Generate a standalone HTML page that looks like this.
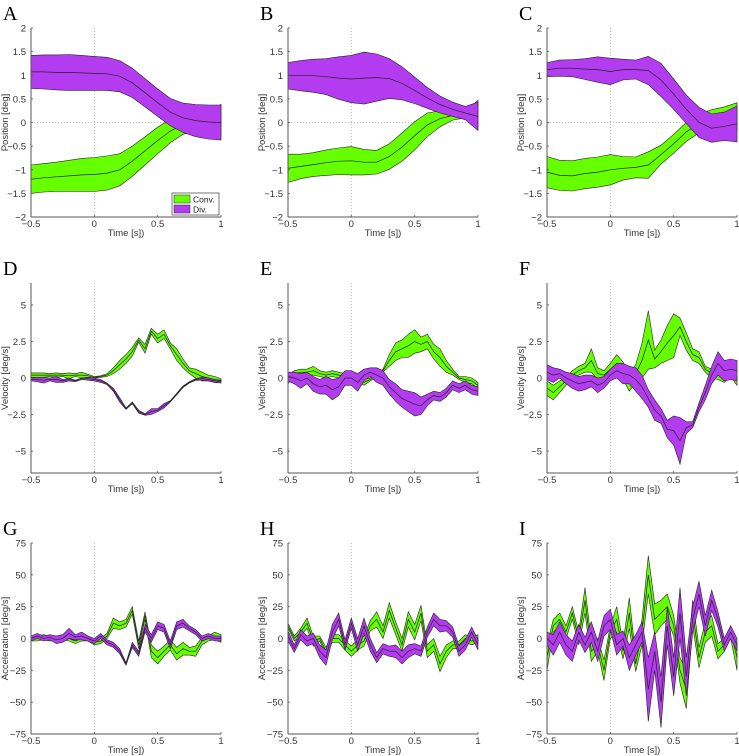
<!DOCTYPE html>
<html><head><meta charset="utf-8"><style>
body{margin:0;background:#fff;}
svg{display:block;font-family:"Liberation Sans",sans-serif;}
</style></head><body>
<svg id="fig" width="739" height="756" viewBox="0 0 739 756" xmlns="http://www.w3.org/2000/svg"></svg>
<script>
// ---- data ----
const posTimes=[-0.5,-0.4,-0.3,-0.2,-0.1,0,0.1,0.2,0.3,0.4,0.5,0.6,0.7,0.8,0.9,1.0];
const fineTimes=[-0.5,-0.45,-0.4,-0.35,-0.3,-0.25,-0.2,-0.15,-0.1,-0.05,0,0.05,0.1,0.15,0.2,0.25,0.3,0.35,0.4,0.45,0.5,0.55,0.6,0.65,0.7,0.75,0.8,0.85,0.9,0.95,1.0];
const xTicks=[-0.5,0,0.5,1];
const xTickLabels=["-0.5","0","0.5","1"];
const posTicks=[-2,-1.5,-1,-0.5,0,0.5,1,1.5,2];
const posTickLabels=["-2","-1.5","-1","-0.5","0","0.5","1","1.5","2"];
const velTicks=[-5,-2.5,0,2.5,5];
const velTickLabels=["-5","-2.5","0","2.5","5"];
const accTicks=[-75,-50,-25,0,25,50,75];
const accTickLabels=["-75","-50","-25","0","25","50","75"];

const aDivMean=[1.07,1.07,1.06,1.06,1.05,1.04,1.03,0.98,0.84,0.63,0.42,0.22,0.1,0.04,0.01,0.0];
const aDivSd=[0.35,0.36,0.37,0.38,0.37,0.36,0.35,0.33,0.31,0.3,0.29,0.29,0.31,0.34,0.36,0.37];
const aConvMean=[-1.2,-1.17,-1.15,-1.13,-1.11,-1.1,-1.07,-1.0,-0.82,-0.6,-0.38,-0.18,-0.05,0.02,0.05,0.05];
const aConvSd=[0.3,0.3,0.31,0.33,0.35,0.36,0.36,0.34,0.32,0.3,0.28,0.25,0.2,0.2,0.22,0.33];
const bDivMean=[0.99,0.99,0.99,0.97,0.94,0.92,0.94,0.95,0.93,0.83,0.68,0.52,0.38,0.28,0.2,0.13];
const bDivSd=[0.28,0.32,0.35,0.38,0.45,0.5,0.55,0.5,0.42,0.35,0.28,0.22,0.18,0.15,0.14,0.3];
const bConvMean=[-0.97,-0.93,-0.89,-0.85,-0.82,-0.81,-0.84,-0.84,-0.72,-0.52,-0.28,-0.05,0.08,0.15,0.17,0.17];
const bConvSd=[0.3,0.26,0.25,0.27,0.28,0.3,0.27,0.25,0.27,0.3,0.3,0.25,0.17,0.1,0.07,0.3];
const cDivMean=[1.12,1.15,1.15,1.13,1.12,1.08,1.12,1.12,1.1,0.9,0.6,0.28,0.0,-0.12,-0.08,-0.03];
const cDivSd=[0.15,0.17,0.18,0.22,0.27,0.28,0.22,0.2,0.3,0.35,0.32,0.3,0.32,0.3,0.3,0.38];
const cConvMean=[-1.05,-1.12,-1.13,-1.08,-1.05,-1.0,-0.97,-0.95,-0.9,-0.68,-0.45,-0.2,-0.02,0.05,0.08,0.12];
const cConvSd=[0.33,0.32,0.32,0.32,0.32,0.32,0.25,0.22,0.28,0.2,0.2,0.2,0.2,0.22,0.25,0.3];

const dConvMean=[0.2,0.2,0.2,0.2,0.2,0.2,0.15,0.2,0.2,0.15,0.05,0.1,0.2,0.5,0.9,1.3,1.8,2.6,2.0,3.2,2.7,3.0,2.2,1.6,1.0,0.5,0.3,0.1,0.0,-0.1,-0.2];
const dConvSd=[0.15,0.15,0.15,0.1,0.15,0.1,0.2,0.1,0.2,0.1,0.05,0.05,0.1,0.2,0.3,0.3,0.3,0.15,0.3,0.2,0.3,0.3,0.2,0.4,0.3,0.2,0.3,0.3,0.2,0.2,0.15];
const dDivMean=[-0.1,-0.1,-0.15,-0.1,-0.1,-0.2,-0.1,-0.2,-0.05,-0.05,-0.1,-0.2,-0.4,-0.8,-1.5,-2.1,-1.7,-2.3,-2.5,-2.3,-2.2,-1.9,-1.6,-1.1,-0.6,-0.3,-0.1,-0.05,-0.1,-0.2,-0.2];
const dDivSd=[0.1,0.15,0.2,0.1,0.2,0.1,0.1,0.05,0.05,0.1,0.1,0.1,0.05,0.1,0.15,0.05,0.05,0.1,0.05,0.2,0.1,0.15,0.05,0.05,0.05,0.05,0.05,0.1,0.1,0.1,0.05];
const eConvMean=[-0.1,0.3,0.4,0.4,0.5,0.3,0.2,0.3,0.2,0.1,0.0,-0.1,-0.3,-0.1,0.2,0.5,1.2,1.8,2.0,2.2,2.5,2.3,2.5,1.8,1.4,0.8,0.4,0.0,-0.1,-0.2,-0.5];
const eConvSd=[0.3,0.2,0.2,0.2,0.3,0.2,0.2,0.2,0.2,0.2,0.1,0.2,0.2,0.1,0.1,0.1,0.4,0.6,0.6,0.8,0.8,0.5,0.5,0.5,0.6,0.4,0.2,0.1,0.2,0.2,0.2];
const eDivMean=[0.1,0.0,-0.2,0.0,-0.4,-0.6,-0.5,-0.8,-0.6,0.0,0.0,-0.3,0.2,0.4,0.2,0.0,-0.6,-1.0,-1.4,-1.6,-1.8,-1.9,-1.5,-1.2,-1.3,-1.0,-0.5,-0.7,-0.5,-0.8,-0.9];
const eDivSd=[0.3,0.4,0.5,0.4,0.5,0.5,0.6,0.7,0.6,0.5,0.5,0.6,0.4,0.3,0.5,0.5,0.5,0.6,0.6,0.7,0.8,0.6,0.4,0.3,0.3,0.3,0.3,0.3,0.3,0.3,0.3];
const fConvMean=[-0.7,-1.0,-0.6,-0.2,0.2,0.5,0.7,1.2,0.3,0.2,0.6,1.0,0.5,-0.3,0.3,1.2,2.6,1.3,1.8,2.4,2.9,3.5,2.5,1.6,1.4,0.6,0.3,0.2,0.0,0.3,-0.2];
const fConvSd=[0.5,0.5,0.4,0.3,0.3,0.3,0.3,0.8,0.4,0.3,0.4,0.6,0.6,0.6,0.6,1.2,2.0,0.6,0.8,1.2,1.5,0.6,0.6,0.4,0.4,0.2,0.3,0.3,0.3,0.2,0.3];
const fDivMean=[0.4,0.2,0.3,0.0,-0.2,-0.4,-0.3,-0.2,-0.5,-0.3,0.2,0.5,0.3,0.2,-0.1,-0.6,-1.4,-2.2,-2.6,-3.5,-3.6,-4.3,-3.4,-3.2,-2.0,-1.0,0.2,1.0,0.5,0.6,0.5];
const fDivSd=[0.5,0.5,0.3,0.4,0.5,0.5,0.5,0.4,0.5,0.4,0.4,0.5,0.7,0.6,0.8,0.8,0.6,0.7,0.5,0.6,1.0,1.6,0.4,0.2,0.3,0.5,0.6,0.8,0.7,0.7,0.7];

const gConvMean=[0,0,1,0,0,1,0,-2,0,0,-3,-2,2,12,10,12,22,-5,18,-10,-15,-10,-5,-12,-8,-10,-10,-2,0,2,0];
const gConvSd=[2,2,2,2,2,2,2,2,2,2,2,2,2,4,3,3,3,3,3,5,5,4,4,5,5,3,4,3,2,3,3];
const gDivMean=[0,2,0,1,-1,0,4,1,2,0,-2,2,-3,-5,-10,-20,-5,-12,8,0,10,8,-5,10,12,8,5,0,2,0,0];
const gDivSd=[2,2,2,2,3,3,4,2,3,2,2,2,2,2,2,1,2,2,3,3,3,3,3,3,3,2,2,2,2,2,2];
const hConvMean=[10,0,5,12,-2,0,-10,0,0,-5,-10,-5,-2,10,15,5,22,8,-5,15,5,20,-10,-5,-20,-10,-5,-5,0,-2,0];
const hConvSd=[2,2,3,4,4,2,3,3,3,4,4,4,4,4,6,5,6,5,5,6,6,6,5,5,6,5,3,3,3,3,3];
const hDivMean=[2,-8,3,-2,0,-10,-15,5,15,-5,12,-5,10,-5,-15,-8,-10,-10,-15,-10,-8,-10,5,15,10,10,5,-10,-5,5,-5];
const hDivSd=[4,3,4,4,4,5,6,6,5,4,4,5,6,5,4,4,4,5,5,5,4,4,4,5,5,4,4,4,4,4,4];
const iConvMean=[-15,10,15,5,20,0,30,-10,-5,-25,5,15,-10,20,-20,5,50,15,20,25,10,-25,-40,20,-15,5,10,-10,-5,5,-15];
const iConvSd=[10,5,5,5,5,5,10,8,5,8,5,10,6,12,6,10,15,12,10,10,8,10,15,10,8,8,8,6,5,5,10];
const iDivMean=[0,-5,5,-5,-10,5,-5,5,-10,10,15,-5,0,-15,-5,5,-40,-10,-50,10,-30,20,-30,15,35,10,30,15,-5,5,-5];
const iDivSd=[5,8,8,8,8,6,6,8,8,8,8,8,6,10,8,8,25,15,20,15,15,20,15,10,10,8,8,6,5,5,5];

// ---- layout ----
const NS="http://www.w3.org/2000/svg";
const svg=document.getElementById('fig');
const colX=[31,288,547], rowY=[28,283,543], W=190, rowH=[189,190,191];
const GREEN="#66ff00", PURPLE="#b43cf0";
function el(tag,attrs,parent){const e=document.createElementNS(NS,tag);for(const k in attrs)e.setAttribute(k,attrs[k]);(parent||svg).appendChild(e);return e;}

const panels=[
 {L:"A",r:0,c:0,t:posTimes,ymin:-2,ymax:2,ticks:posTicks,tl:posTickLabels,yl:"Position [deg]",cm:aConvMean,cs:aConvSd,dm:aDivMean,ds:aDivSd,hz:true,legend:true},
 {L:"B",r:0,c:1,t:posTimes,ymin:-2,ymax:2,ticks:posTicks,tl:posTickLabels,yl:"Position [deg]",cm:bConvMean,cs:bConvSd,dm:bDivMean,ds:bDivSd,hz:true},
 {L:"C",r:0,c:2,t:posTimes,ymin:-2,ymax:2,ticks:posTicks,tl:posTickLabels,yl:"Position [deg]",cm:cConvMean,cs:cConvSd,dm:cDivMean,ds:cDivSd,hz:true},
 {L:"D",r:1,c:0,t:fineTimes,ymin:-6.5,ymax:6.5,ticks:velTicks,tl:velTickLabels,yl:"Velocity [deg/s]",cm:dConvMean,cs:dConvSd,dm:dDivMean,ds:dDivSd},
 {L:"E",r:1,c:1,t:fineTimes,ymin:-6.5,ymax:6.5,ticks:velTicks,tl:velTickLabels,yl:"Velocity [deg/s]",cm:eConvMean,cs:eConvSd,dm:eDivMean,ds:eDivSd},
 {L:"F",r:1,c:2,t:fineTimes,ymin:-6.5,ymax:6.5,ticks:velTicks,tl:velTickLabels,yl:"Velocity [deg/s]",cm:fConvMean,cs:fConvSd,dm:fDivMean,ds:fDivSd},
 {L:"G",r:2,c:0,t:fineTimes,ymin:-75,ymax:75,ticks:accTicks,tl:accTickLabels,yl:"Acceleration [deg/s]",cm:gConvMean,cs:gConvSd,dm:gDivMean,ds:gDivSd},
 {L:"H",r:2,c:1,t:fineTimes,ymin:-75,ymax:75,ticks:accTicks,tl:accTickLabels,yl:"Acceleration [deg/s]",cm:hConvMean,cs:hConvSd,dm:hDivMean,ds:hDivSd},
 {L:"I",r:2,c:2,t:fineTimes,ymin:-75,ymax:75,ticks:accTicks,tl:accTickLabels,yl:"Acceleration [deg/s]",cm:iConvMean,cs:iConvSd,dm:iDivMean,ds:iDivSd},
];

panels.forEach(p=>{
  const x0=colX[p.c], y0=rowY[p.r], H=rowH[p.r];
  const xs=v=>x0+(v+0.5)/1.5*W;
  const ys=v=>y0+(p.ymax-v)/(p.ymax-p.ymin)*H;
  const g=el('g',{});
  
  
  const lab=el('text',{x:x0-28,y:y0-8,'font-family':'"Liberation Serif",serif','font-size':20},g);
  lab.textContent=p.L;
  
  
  el('line',{x1:xs(0),x2:xs(0),y1:y0,y2:y0+H,stroke:'#aaa','stroke-width':0.8,'stroke-dasharray':'1,2'},g);
  if(p.hz) el('line',{x1:x0,x2:x0+W,y1:ys(0),y2:ys(0),stroke:'#aaa','stroke-width':0.8,'stroke-dasharray':'1,2'},g);
  function band(mean,sd,color,name){
    let up="",lo="",mid="";
    p.t.forEach((t,i)=>{up+=(i?"L":"M")+xs(t).toFixed(1)+","+ys(mean[i]+sd[i]).toFixed(1);mid+=(i?"L":"M")+xs(t).toFixed(1)+","+ys(mean[i]).toFixed(1);});
    for(let i=p.t.length-1;i>=0;i--) lo+="L"+xs(p.t[i]).toFixed(1)+","+ys(mean[i]-sd[i]).toFixed(1);
    const b=el('path',{d:up+lo+"Z",fill:color,stroke:'#222','stroke-width':0.6},g);
    
    
    const m=el('path',{d:mid,fill:'none',stroke:'#222','stroke-width':0.7},g);
    
    
  }
  band(p.cm,p.cs,GREEN,'conv');
  band(p.dm,p.ds,PURPLE,'div');
  el('line',{x1:x0,x2:x0,y1:y0,y2:y0+H,stroke:'#555','stroke-width':1},g);
  el('line',{x1:x0,x2:x0+W,y1:y0+H,y2:y0+H,stroke:'#555','stroke-width':1},g);
  p.ticks.forEach((v,i)=>{
    el('line',{x1:x0,x2:x0+2,y1:ys(v),y2:ys(v),stroke:'#555','stroke-width':0.8},g);
    const t=el('text',{x:x0-5,y:ys(v)+3.5,'font-size':9.5,'text-anchor':'end',fill:'#333'},g);
    t.textContent=p.tl[i].replace('-','\u2212');
  });
  xTicks.forEach((v,i)=>{
    el('line',{x1:xs(v),x2:xs(v),y1:y0+H,y2:y0+H-2,stroke:'#555','stroke-width':0.8},g);
    const t=el('text',{x:xs(v),y:y0+H+10,'font-size':9.5,'text-anchor':'middle',fill:'#333'},g);
    t.textContent=xTickLabels[i].replace('-','\u2212');
  });
  const xt=el('text',{x:x0+W/2,y:y0+H+19,'font-size':9.5,'text-anchor':'middle',fill:'#333'},g);
  xt.textContent="Time [s])";
  
  
  const yt=el('text',{x:0,y:0,'font-size':9.5,'text-anchor':'middle',fill:'#333',transform:`translate(${x0-23},${y0+H/2}) rotate(-90)`},g);
  yt.textContent=p.yl;
  
  
  if(p.legend){
    const lg=el('g',{},g);
    
    
    el('rect',{x:172,y:193,width:47,height:22,fill:'#fff',stroke:'#555','stroke-width':0.8},lg);
    [["Conv.",GREEN],["Div.",PURPLE]].forEach((e,i)=>{
      const r=el('rect',{x:174,y:195+i*10,width:16,height:8,fill:e[1],stroke:'#222','stroke-width':0.5},lg);
      
      
      const t=el('text',{x:193,y:202.5+i*10,'font-size':8.5,fill:'#222'},lg);
      t.textContent=e[0];
    });
  }
});
</script>
</body></html>
